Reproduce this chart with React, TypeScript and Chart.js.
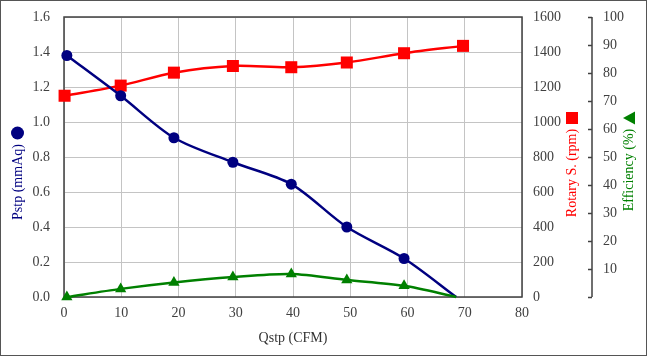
import React, { useEffect, useRef } from 'react';
import { Chart, registerables } from 'chart.js';

Chart.register(...registerables);

// Flow (CFM) at each measurement
const pstpFlow = [0.5, 9.9, 19.2, 29.5, 39.7, 49.4, 59.4, 68.5];
const pstpValues = [1.38, 1.15, 0.91, 0.77, 0.645, 0.4, 0.22, 0.0];
const pstpMarkers = [1, 1, 1, 1, 1, 1, 1, 0];

const rpmFlow = [0.1, 9.9, 19.2, 29.5, 39.7, 49.4, 59.4, 69.7];
const rpmValues = [1150, 1208, 1282, 1320, 1313, 1340, 1393, 1435];

const effFlow = [0.5, 9.9, 19.2, 29.5, 39.7, 49.4, 59.4, 68.5];
const effValues = [0, 2.9, 5.2, 7.1, 8.2, 6.1, 4.0, 0];
const effMarkers = [1, 1, 1, 1, 1, 1, 1, 0];

const xTitle = 'Qstp (CFM)';
const yTitle = 'Pstp (mmAq)';
const y1Title = 'Rotary S. (rpm)';
const y2Title = 'Efficiency (%)';

const NAVY = '#000080';
const RED = '#ff0000';
const GREEN = '#008000';
const AXIS = '#404040';
const GRID = '#c4c4c4';
const TICK = '#404040';
const FONT = '"Liberation Serif", "Times New Roman", serif';

const toPts = (xs: number[], ys: number[]) => xs.map((x, i) => ({ x, y: ys[i] }));

const fixV = (w: number) => (s: any) => {
  s.width = w;
  s.paddingTop = 0;
  s.paddingBottom = 0;
};

const decorPlugin = {
  id: 'decor',
  beforeDatasetsDraw(chart: any) {
    const { ctx, chartArea } = chart;
    ctx.save();
    ctx.strokeStyle = AXIS;
    ctx.lineWidth = 1.5;
    ctx.strokeRect(chartArea.left, chartArea.top, chartArea.right - chartArea.left, chartArea.bottom - chartArea.top);
    // efficiency axis line + ticks
    const s2 = chart.scales.y2;
    const ax = s2.left;
    ctx.beginPath();
    ctx.moveTo(ax, s2.top);
    ctx.lineTo(ax, s2.bottom);
    s2.ticks.forEach((t: any) => {
      const yy = Math.round(s2.getPixelForValue(t.value)) + 0.5;
      ctx.moveTo(ax - 4, yy);
      ctx.lineTo(ax, yy);
    });
    ctx.stroke();
    ctx.restore();
  },
  afterDraw(chart: any) {
    const { ctx, width, height } = chart;
    ctx.save();
    // outer border
    ctx.strokeStyle = '#555555';
    ctx.lineWidth = 1;
    ctx.strokeRect(0.5, 0.5, width - 1, height - 1);

    const rotText = (text: string, cx: number, cy: number, color: string) => {
      ctx.save();
      ctx.translate(cx, cy);
      ctx.rotate(-Math.PI / 2);
      ctx.fillStyle = color;
      ctx.font = '14px ' + FONT;
      ctx.textAlign = 'center';
      ctx.textBaseline = 'middle';
      ctx.fillText(text, 0, 0);
      ctx.restore();
    };

    // left title + circle
    rotText(yTitle, 18, 182, NAVY);
    ctx.fillStyle = NAVY;
    ctx.beginPath();
    ctx.arc(17.5, 133, 6.5, 0, Math.PI * 2);
    ctx.fill();

    // rpm title + square
    rotText(y1Title, 572, 173, RED);
    ctx.fillStyle = RED;
    ctx.fillRect(566, 112, 12, 12);

    // efficiency title + triangle
    rotText(y2Title, 629, 170, GREEN);
    ctx.fillStyle = GREEN;
    ctx.beginPath();
    ctx.moveTo(623, 118);
    ctx.lineTo(635, 111.5);
    ctx.lineTo(635, 124.5);
    ctx.closePath();
    ctx.fill();

    // x title
    const xs = chart.scales.x;
    ctx.fillStyle = '#333333';
    ctx.font = '14px ' + FONT;
    ctx.textAlign = 'center';
    ctx.textBaseline = 'middle';
    ctx.fillText(xTitle, (xs.left + xs.right) / 2, 338);
    ctx.restore();
  },
};

export default function App() {
  const ref = useRef<HTMLCanvasElement | null>(null);

  useEffect(() => {
    if (!ref.current) return;
    const chart = new Chart(ref.current, {
      type: 'line',
      data: {
        datasets: [
          {
            label: 'Efficiency',
            data: toPts(effFlow, effValues),
            yAxisID: 'y2',
            borderColor: GREEN,
            backgroundColor: GREEN,
            borderWidth: 2.5,
            pointStyle: 'triangle',
            pointRadius: effMarkers.map((m) => (m ? 6.5 : 0)),
            pointBorderWidth: 0,
            tension: 0.3,
            clip: false,
            order: 0,
          } as any,
          {
            label: 'Pstp',
            data: toPts(pstpFlow, pstpValues),
            yAxisID: 'y',
            borderColor: NAVY,
            backgroundColor: NAVY,
            borderWidth: 2.5,
            pointStyle: 'circle',
            pointRadius: pstpMarkers.map((m) => (m ? 5.5 : 0)),
            pointBorderWidth: 0,
            tension: 0.3,
            clip: false,
            order: 1,
          } as any,
          {
            label: 'Rotary S.',
            data: toPts(rpmFlow, rpmValues),
            yAxisID: 'y1',
            borderColor: RED,
            backgroundColor: RED,
            borderWidth: 2.5,
            pointStyle: 'rect',
            pointRadius: 8.5,
            pointBorderWidth: 0,
            tension: 0.3,
            clip: false,
            order: 2,
          } as any,
        ],
      },
      options: {
        animation: false,
        responsive: false,
        maintainAspectRatio: false,
        layout: { padding: { top: 17, left: 0, right: 0, bottom: 0 } },
        plugins: { legend: { display: false }, tooltip: { enabled: false } },
        scales: {
          x: {
            type: 'linear',
            position: 'bottom',
            min: 0,
            max: 80,
            ticks: { stepSize: 10, color: TICK, font: { family: FONT, size: 14 }, padding: 8, maxRotation: 0 },
            grid: { color: GRID, lineWidth: 1, drawTicks: false },
            border: { display: false },
            afterFit: (s: any) => { s.height = 59; s.paddingLeft = 0; s.paddingRight = 0; },
          },
          y: {
            type: 'linear',
            position: 'left',
            min: 0,
            max: 1.6,
            ticks: { stepSize: 0.2, color: TICK, font: { family: FONT, size: 14 }, padding: 14, callback: (v: any) => Number(v).toFixed(1) },
            grid: { color: GRID, lineWidth: 1, drawTicks: false },
            border: { display: false },
            afterFit: fixV(64),
          },
          y1: {
            type: 'linear',
            position: 'right',
            weight: 0,
            min: 0,
            max: 1600,
            ticks: { stepSize: 200, color: TICK, font: { family: FONT, size: 14 }, padding: 11, callback: (v: any) => String(v) },
            grid: { display: false, drawOnChartArea: false, drawTicks: false },
            border: { display: false },
            afterFit: fixV(70),
          },
          y2: {
            type: 'linear',
            position: 'right',
            weight: 1,
            min: 0,
            max: 100,
            ticks: { stepSize: 10, color: TICK, font: { family: FONT, size: 14 }, padding: 11, callback: (v: any) => (Number(v) === 0 ? '' : String(v)) },
            grid: { display: false, drawOnChartArea: false, drawTicks: false },
            border: { display: false },
            afterFit: fixV(55),
          },
        },
      } as any,
      plugins: [decorPlugin],
    });
    return () => chart.destroy();
  }, []);

  return (
    <div style={{ position: 'fixed', left: 0, top: 0, width: 647, height: 356, background: '#ffffff' }}>
      <canvas ref={ref} width={647} height={356} style={{ display: 'block', width: 647, height: 356 }} />
    </div>
  );
}
